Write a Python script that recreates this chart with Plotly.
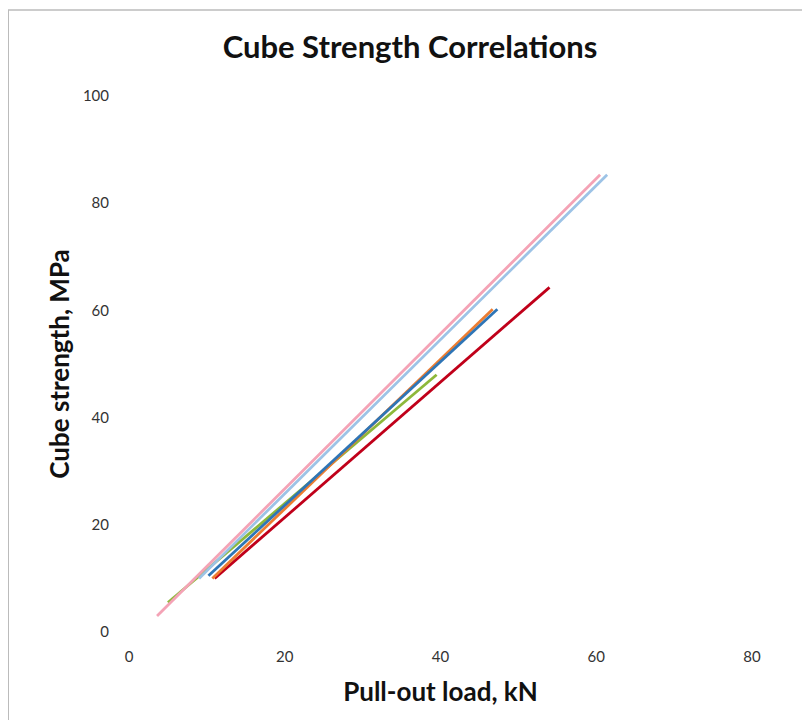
import plotly.graph_objects as go

# Pull-out load (kN) -> cube strength (MPa), start and end of each correlation line
series_names = ["Pink", "Light blue", "Blue", "Orange", "Green", "Red"]
x_pink = [3.6, 60.5]
y_pink = [3.0, 85.3]
x_lightblue = [9.0, 61.4]
y_lightblue = [10.0, 85.3]
x_blue = [10.2, 47.3]
y_blue = [10.5, 60.2]
x_orange = [10.7, 46.7]
y_orange = [10.0, 60.2]
x_green = [5.0, 39.5]
y_green = [5.5, 48.0]
x_red = [11.0, 54.0]
y_red = [10.0, 64.3]

colors = ["#F4A3B6", "#9DC3E6", "#2E75B6", "#ED7D31", "#8DB83A", "#C0001A"]
xs = [x_pink, x_lightblue, x_blue, x_orange, x_green, x_red]
ys = [y_pink, y_lightblue, y_blue, y_orange, y_green, y_red]

x_ticks = [0, 20, 40, 60, 80]
y_ticks = [0, 20, 40, 60, 80, 100]

fig = go.Figure()
order = [5, 4, 3, 2, 1, 0]
for i in order:
    fig.add_trace(go.Scatter(x=xs[i], y=ys[i], mode="lines", name=series_names[i],
                             line=dict(color=colors[i], width=2.8)))

W, H = 802, 712
L, R, T, B = 121, 58, 88, 88
PW, PH = W - L - R, H - T - B

font_family = "Lato, 'Open Sans', sans-serif"
fig.update_layout(
    width=W, height=H,
    margin=dict(l=L, r=R, t=T, b=B),
    paper_bgcolor="white", plot_bgcolor="white",
    showlegend=False,
    title=dict(text="<b>Cube Strength Correlations</b>", x=(410 - 8) / W, xanchor="center",
               y=1 - 39 / H, yanchor="middle",
               font=dict(family=font_family, size=31, color="#111111")),
    font=dict(family=font_family, color="#222222"),
)
fig.update_xaxes(range=[0, 80], tickvals=x_ticks, showgrid=False, zeroline=False,
                 showline=False, ticks="", ticklabelstandoff=14,
                 tickfont=dict(size=15, color="#333333"),
                 title=dict(text="<b>Pull-out load, kN</b>", standoff=18,
                            font=dict(size=26, color="#111111", family=font_family)))
fig.update_yaxes(range=[0, 100], tickvals=y_ticks, showgrid=False, zeroline=False,
                 showline=False, ticks="", ticklabelstandoff=19,
                 tickfont=dict(size=15, color="#333333"),
                 title=dict(text="<b>Cube strength, MPa</b>", standoff=5,
                            font=dict(size=26, color="#111111", family=font_family)))

# chart area border (top and left edges visible in the reference)
fig.add_shape(type="line", xref="paper", yref="paper", x0=-L / PW, x1=(W - L) / PW,
              y0=1 + (T - 2) / PH, y1=1 + (T - 2) / PH,
              line=dict(color="#999999", width=1))
fig.add_shape(type="line", xref="paper", yref="paper", x0=(-L + 0.5) / PW, x1=(-L + 0.5) / PW,
              y0=-B / PH, y1=1 + (T - 2) / PH,
              line=dict(color="#BBBBBB", width=1))

fig.write_html("out.html")
